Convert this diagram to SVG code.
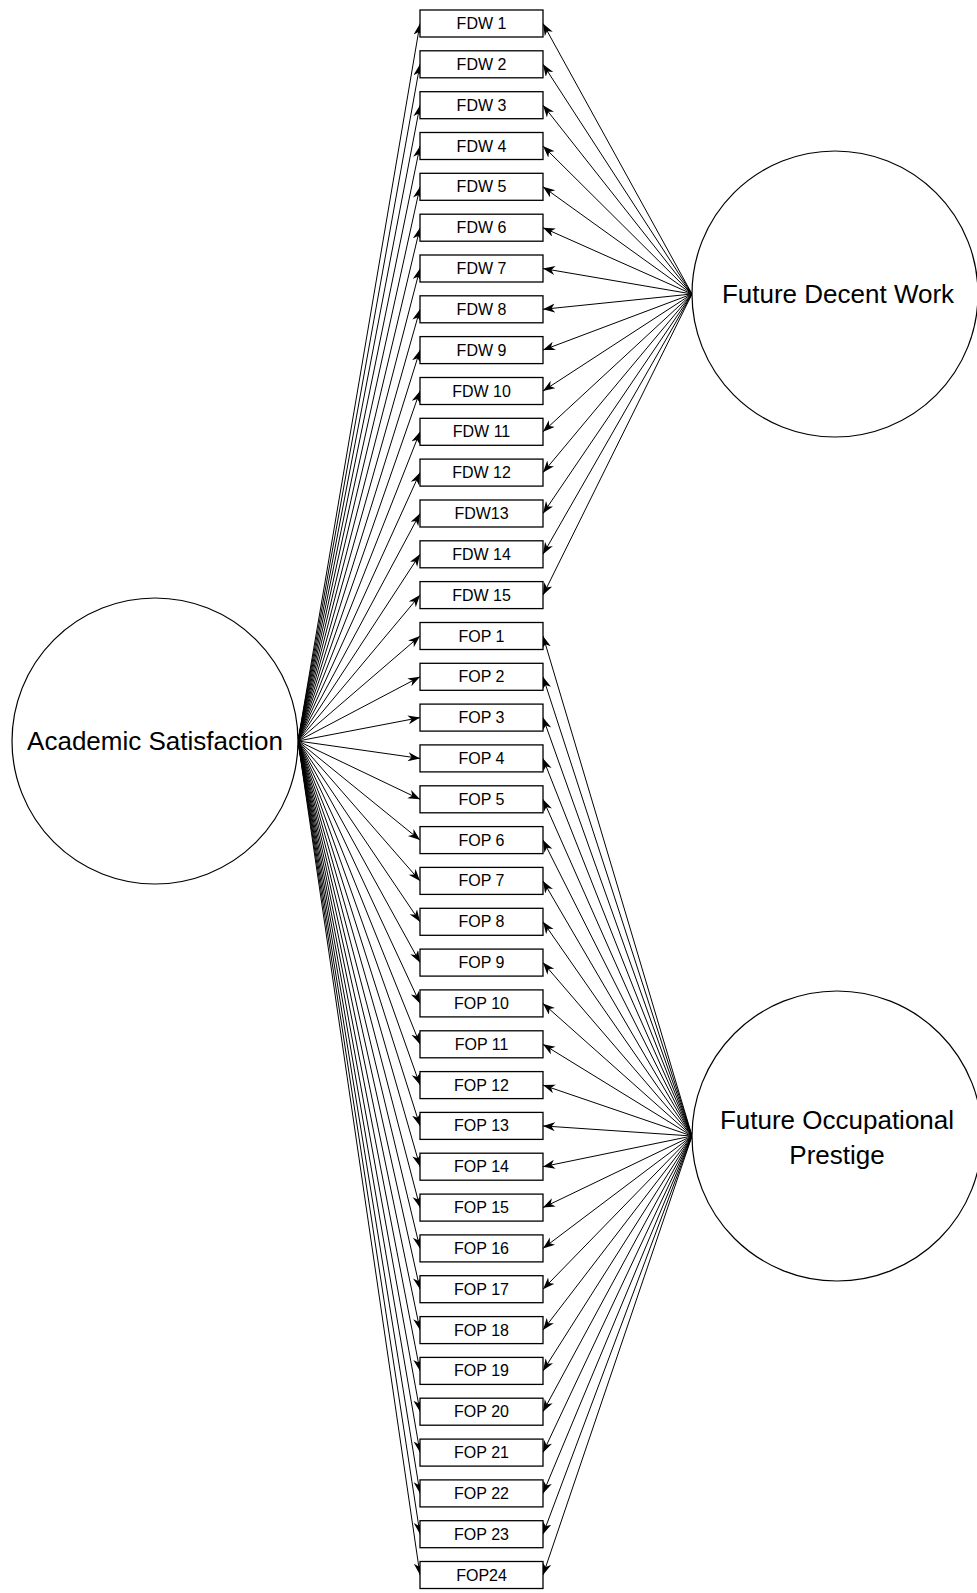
<svg xmlns="http://www.w3.org/2000/svg" width="977" height="1593" viewBox="0 0 977 1593">
<defs>
<style>
.bg{fill:#fff}
.box{fill:#fff;stroke:#000;stroke-width:1.3}
.lbl{font-family:"Liberation Sans",Arial,sans-serif;font-size:16px;fill:#000;text-anchor:middle;dominant-baseline:central}
.big{font-family:"Liberation Sans",Arial,sans-serif;font-size:26px;fill:#000;text-anchor:middle;dominant-baseline:central}
.circ{fill:#fff;stroke:#000;stroke-width:1.2}
.conn line{stroke:#000;stroke-width:1;marker-end:url(#ah)}
</style>
<marker id="ah" markerUnits="userSpaceOnUse" markerWidth="13" markerHeight="10" refX="12" refY="4.5" orient="auto">
<path d="M0,0 L12,4.5 L0,9 L3.5,4.5 z" fill="#000"/>
</marker>
</defs>
<rect class="bg" x="0" y="0" width="977" height="1593"/>
<g id="connectors" class="conn">
<line x1="298" y1="741" x2="420" y2="23.5"/>
<line x1="298" y1="741" x2="420" y2="64.3"/>
<line x1="298" y1="741" x2="420" y2="105.2"/>
<line x1="298" y1="741" x2="420" y2="146"/>
<line x1="298" y1="741" x2="420" y2="186.8"/>
<line x1="298" y1="741" x2="420" y2="227.7"/>
<line x1="298" y1="741" x2="420" y2="268.5"/>
<line x1="298" y1="741" x2="420" y2="309.3"/>
<line x1="298" y1="741" x2="420" y2="350.1"/>
<line x1="298" y1="741" x2="420" y2="391"/>
<line x1="298" y1="741" x2="420" y2="431.8"/>
<line x1="298" y1="741" x2="420" y2="472.6"/>
<line x1="298" y1="741" x2="420" y2="513.5"/>
<line x1="298" y1="741" x2="420" y2="554.3"/>
<line x1="298" y1="741" x2="420" y2="595.1"/>
<line x1="298" y1="741" x2="420" y2="636"/>
<line x1="298" y1="741" x2="420" y2="676.8"/>
<line x1="298" y1="741" x2="420" y2="717.6"/>
<line x1="298" y1="741" x2="420" y2="758.4"/>
<line x1="298" y1="741" x2="420" y2="799.3"/>
<line x1="298" y1="741" x2="420" y2="840.1"/>
<line x1="298" y1="741" x2="420" y2="880.9"/>
<line x1="298" y1="741" x2="420" y2="921.8"/>
<line x1="298" y1="741" x2="420" y2="962.6"/>
<line x1="298" y1="741" x2="420" y2="1003.4"/>
<line x1="298" y1="741" x2="420" y2="1044.3"/>
<line x1="298" y1="741" x2="420" y2="1085.1"/>
<line x1="298" y1="741" x2="420" y2="1125.9"/>
<line x1="298" y1="741" x2="420" y2="1166.7"/>
<line x1="298" y1="741" x2="420" y2="1207.6"/>
<line x1="298" y1="741" x2="420" y2="1248.4"/>
<line x1="298" y1="741" x2="420" y2="1289.2"/>
<line x1="298" y1="741" x2="420" y2="1330.1"/>
<line x1="298" y1="741" x2="420" y2="1370.9"/>
<line x1="298" y1="741" x2="420" y2="1411.7"/>
<line x1="298" y1="741" x2="420" y2="1452.6"/>
<line x1="298" y1="741" x2="420" y2="1493.4"/>
<line x1="298" y1="741" x2="420" y2="1534.2"/>
<line x1="298" y1="741" x2="420" y2="1575"/>
<line x1="692" y1="294" x2="543" y2="23.5"/>
<line x1="692" y1="294" x2="543" y2="64.3"/>
<line x1="692" y1="294" x2="543" y2="105.2"/>
<line x1="692" y1="294" x2="543" y2="146"/>
<line x1="692" y1="294" x2="543" y2="186.8"/>
<line x1="692" y1="294" x2="543" y2="227.7"/>
<line x1="692" y1="294" x2="543" y2="268.5"/>
<line x1="692" y1="294" x2="543" y2="309.3"/>
<line x1="692" y1="294" x2="543" y2="350.1"/>
<line x1="692" y1="294" x2="543" y2="391"/>
<line x1="692" y1="294" x2="543" y2="431.8"/>
<line x1="692" y1="294" x2="543" y2="472.6"/>
<line x1="692" y1="294" x2="543" y2="513.5"/>
<line x1="692" y1="294" x2="543" y2="554.3"/>
<line x1="692" y1="294" x2="543" y2="595.1"/>
<line x1="692" y1="1136" x2="543" y2="636"/>
<line x1="692" y1="1136" x2="543" y2="676.8"/>
<line x1="692" y1="1136" x2="543" y2="717.6"/>
<line x1="692" y1="1136" x2="543" y2="758.4"/>
<line x1="692" y1="1136" x2="543" y2="799.3"/>
<line x1="692" y1="1136" x2="543" y2="840.1"/>
<line x1="692" y1="1136" x2="543" y2="880.9"/>
<line x1="692" y1="1136" x2="543" y2="921.8"/>
<line x1="692" y1="1136" x2="543" y2="962.6"/>
<line x1="692" y1="1136" x2="543" y2="1003.4"/>
<line x1="692" y1="1136" x2="543" y2="1044.3"/>
<line x1="692" y1="1136" x2="543" y2="1085.1"/>
<line x1="692" y1="1136" x2="543" y2="1125.9"/>
<line x1="692" y1="1136" x2="543" y2="1166.7"/>
<line x1="692" y1="1136" x2="543" y2="1207.6"/>
<line x1="692" y1="1136" x2="543" y2="1248.4"/>
<line x1="692" y1="1136" x2="543" y2="1289.2"/>
<line x1="692" y1="1136" x2="543" y2="1330.1"/>
<line x1="692" y1="1136" x2="543" y2="1370.9"/>
<line x1="692" y1="1136" x2="543" y2="1411.7"/>
<line x1="692" y1="1136" x2="543" y2="1452.6"/>
<line x1="692" y1="1136" x2="543" y2="1493.4"/>
<line x1="692" y1="1136" x2="543" y2="1534.2"/>
<line x1="692" y1="1136" x2="543" y2="1575"/>
</g>
<g id="academic-satisfaction"><circle class="circ" cx="155" cy="741" r="143"/><text class="big" x="155" y="741">Academic Satisfaction</text></g>
<g id="future-decent-work"><circle class="circ" cx="835" cy="294" r="143"/><text class="big" x="838" y="294">Future Decent Work</text></g>
<g id="future-occupational-prestige"><circle class="circ" cx="837" cy="1136" r="145"/><text class="big" x="837" y="1120">Future Occupational</text><text class="big" x="837" y="1155">Prestige</text></g>
<g id="fdw1"><rect class="box" x="420" y="10" width="123" height="27"/><text class="lbl" x="481.5" y="23.5">FDW 1</text></g>
<g id="fdw2"><rect class="box" x="420" y="50.8" width="123" height="27"/><text class="lbl" x="481.5" y="64.3">FDW 2</text></g>
<g id="fdw3"><rect class="box" x="420" y="91.7" width="123" height="27"/><text class="lbl" x="481.5" y="105.2">FDW 3</text></g>
<g id="fdw4"><rect class="box" x="420" y="132.5" width="123" height="27"/><text class="lbl" x="481.5" y="146">FDW 4</text></g>
<g id="fdw5"><rect class="box" x="420" y="173.3" width="123" height="27"/><text class="lbl" x="481.5" y="186.8">FDW 5</text></g>
<g id="fdw6"><rect class="box" x="420" y="214.2" width="123" height="27"/><text class="lbl" x="481.5" y="227.7">FDW 6</text></g>
<g id="fdw7"><rect class="box" x="420" y="255" width="123" height="27"/><text class="lbl" x="481.5" y="268.5">FDW 7</text></g>
<g id="fdw8"><rect class="box" x="420" y="295.8" width="123" height="27"/><text class="lbl" x="481.5" y="309.3">FDW 8</text></g>
<g id="fdw9"><rect class="box" x="420" y="336.6" width="123" height="27"/><text class="lbl" x="481.5" y="350.1">FDW 9</text></g>
<g id="fdw10"><rect class="box" x="420" y="377.5" width="123" height="27"/><text class="lbl" x="481.5" y="391">FDW 10</text></g>
<g id="fdw11"><rect class="box" x="420" y="418.3" width="123" height="27"/><text class="lbl" x="481.5" y="431.8">FDW 11</text></g>
<g id="fdw12"><rect class="box" x="420" y="459.1" width="123" height="27"/><text class="lbl" x="481.5" y="472.6">FDW 12</text></g>
<g id="fdw13"><rect class="box" x="420" y="500" width="123" height="27"/><text class="lbl" x="481.5" y="513.5">FDW13</text></g>
<g id="fdw14"><rect class="box" x="420" y="540.8" width="123" height="27"/><text class="lbl" x="481.5" y="554.3">FDW 14</text></g>
<g id="fdw15"><rect class="box" x="420" y="581.6" width="123" height="27"/><text class="lbl" x="481.5" y="595.1">FDW 15</text></g>
<g id="fop1"><rect class="box" x="420" y="622.5" width="123" height="27"/><text class="lbl" x="481.5" y="636">FOP 1</text></g>
<g id="fop2"><rect class="box" x="420" y="663.3" width="123" height="27"/><text class="lbl" x="481.5" y="676.8">FOP 2</text></g>
<g id="fop3"><rect class="box" x="420" y="704.1" width="123" height="27"/><text class="lbl" x="481.5" y="717.6">FOP 3</text></g>
<g id="fop4"><rect class="box" x="420" y="744.9" width="123" height="27"/><text class="lbl" x="481.5" y="758.4">FOP 4</text></g>
<g id="fop5"><rect class="box" x="420" y="785.8" width="123" height="27"/><text class="lbl" x="481.5" y="799.3">FOP 5</text></g>
<g id="fop6"><rect class="box" x="420" y="826.6" width="123" height="27"/><text class="lbl" x="481.5" y="840.1">FOP 6</text></g>
<g id="fop7"><rect class="box" x="420" y="867.4" width="123" height="27"/><text class="lbl" x="481.5" y="880.9">FOP 7</text></g>
<g id="fop8"><rect class="box" x="420" y="908.3" width="123" height="27"/><text class="lbl" x="481.5" y="921.8">FOP 8</text></g>
<g id="fop9"><rect class="box" x="420" y="949.1" width="123" height="27"/><text class="lbl" x="481.5" y="962.6">FOP 9</text></g>
<g id="fop10"><rect class="box" x="420" y="989.9" width="123" height="27"/><text class="lbl" x="481.5" y="1003.4">FOP 10</text></g>
<g id="fop11"><rect class="box" x="420" y="1030.8" width="123" height="27"/><text class="lbl" x="481.5" y="1044.3">FOP 11</text></g>
<g id="fop12"><rect class="box" x="420" y="1071.6" width="123" height="27"/><text class="lbl" x="481.5" y="1085.1">FOP 12</text></g>
<g id="fop13"><rect class="box" x="420" y="1112.4" width="123" height="27"/><text class="lbl" x="481.5" y="1125.9">FOP 13</text></g>
<g id="fop14"><rect class="box" x="420" y="1153.2" width="123" height="27"/><text class="lbl" x="481.5" y="1166.7">FOP 14</text></g>
<g id="fop15"><rect class="box" x="420" y="1194.1" width="123" height="27"/><text class="lbl" x="481.5" y="1207.6">FOP 15</text></g>
<g id="fop16"><rect class="box" x="420" y="1234.9" width="123" height="27"/><text class="lbl" x="481.5" y="1248.4">FOP 16</text></g>
<g id="fop17"><rect class="box" x="420" y="1275.7" width="123" height="27"/><text class="lbl" x="481.5" y="1289.2">FOP 17</text></g>
<g id="fop18"><rect class="box" x="420" y="1316.6" width="123" height="27"/><text class="lbl" x="481.5" y="1330.1">FOP 18</text></g>
<g id="fop19"><rect class="box" x="420" y="1357.4" width="123" height="27"/><text class="lbl" x="481.5" y="1370.9">FOP 19</text></g>
<g id="fop20"><rect class="box" x="420" y="1398.2" width="123" height="27"/><text class="lbl" x="481.5" y="1411.7">FOP 20</text></g>
<g id="fop21"><rect class="box" x="420" y="1439.1" width="123" height="27"/><text class="lbl" x="481.5" y="1452.6">FOP 21</text></g>
<g id="fop22"><rect class="box" x="420" y="1479.9" width="123" height="27"/><text class="lbl" x="481.5" y="1493.4">FOP 22</text></g>
<g id="fop23"><rect class="box" x="420" y="1520.7" width="123" height="27"/><text class="lbl" x="481.5" y="1534.2">FOP 23</text></g>
<g id="fop24"><rect class="box" x="420" y="1561.5" width="123" height="27"/><text class="lbl" x="481.5" y="1575">FOP24</text></g>
</svg>
